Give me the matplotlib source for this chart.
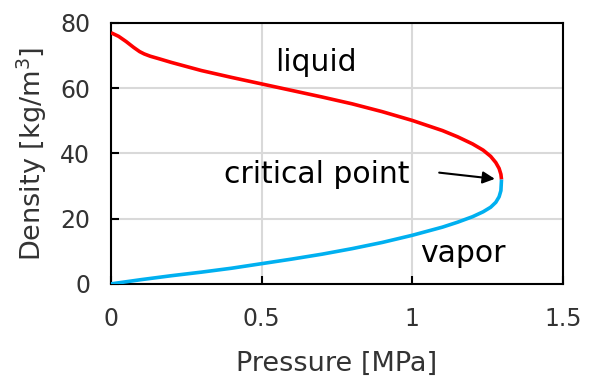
import matplotlib
matplotlib.use("Agg")
import matplotlib.pyplot as plt

# Saturated liquid branch
liquid_p = [0.0, 0.025, 0.05, 0.075, 0.095, 0.11, 0.13, 0.16, 0.2, 0.3, 0.4, 0.5, 0.6, 0.7, 0.8, 0.9, 1.0, 1.1, 1.15, 1.2, 1.235, 1.26, 1.277, 1.288, 1.294, 1.296]
liquid_rho = [77.0, 75.9, 74.3, 72.5, 71.2, 70.5, 69.8, 69.0, 67.9, 65.4, 63.3, 61.3, 59.3, 57.3, 55.2, 52.8, 50.1, 47.0, 45.1, 42.9, 41.0, 39.1, 37.2, 35.4, 33.6, 32.0]

# Saturated vapor branch
vapor_p = [0.0, 0.1, 0.2, 0.3, 0.4, 0.5, 0.6, 0.7, 0.8, 0.9, 1.0, 1.1, 1.15, 1.2, 1.235, 1.26, 1.277, 1.288, 1.294, 1.296]
vapor_rho = [0.0, 1.3, 2.5, 3.6, 4.8, 6.2, 7.6, 9.1, 10.8, 12.7, 14.9, 17.4, 18.9, 20.6, 22.1, 23.5, 25.0, 26.7, 28.6, 32.0]

x_ticks = [0, 0.5, 1, 1.5]
x_ticklabels = ["0", "0.5", "1", "1.5"]
y_ticks = [0, 20, 40, 60, 80]

fig = plt.figure(figsize=(5.97, 3.76), dpi=100)
ax = fig.add_axes([0.186, 0.245, 0.757, 0.694])

ax.plot(liquid_p, liquid_rho, color="#ff0000", lw=2.6, solid_capstyle="butt",
        solid_joinstyle="round", zorder=3)
ax.plot(vapor_p, vapor_rho, color="#00b0f0", lw=2.6, solid_capstyle="butt",
        solid_joinstyle="round", zorder=3)

ax.set_xlim(0, 1.5)
ax.set_ylim(0, 80)
ax.set_xticks(x_ticks)
ax.set_xticklabels(x_ticklabels)
ax.set_yticks(y_ticks)
ax.grid(True, color="#d9d9d9", lw=1.5, zorder=0)
ax.set_axisbelow(True)
for s in ax.spines.values():
    s.set_linewidth(1.5)
    s.set_color("black")
ax.tick_params(direction="in", length=6, width=1.5, labelsize=17, colors="black")
ax.tick_params(axis="x", pad=17)
ax.tick_params(axis="y", pad=15)
for lbl in ax.get_xticklabels() + ax.get_yticklabels():
    lbl.set_color("#333333")

ax.set_xlabel("Pressure [MPa]", fontsize=19.5, color="#333333", labelpad=14)
ax.set_ylabel("Density [kg/m$^3$]", fontsize=19.5, color="#333333", labelpad=8)

ax.text(0.68, 68, "liquid", fontsize=21.5, ha="center", va="center")
ax.text(0.682, 33.4, "critical point", fontsize=21.5, ha="center", va="center")
ax.text(1.167, 9.3, "vapor", fontsize=21.5, ha="center", va="center")
ax.annotate("", xy=(1.283, 32.1), xytext=(1.08, 34.2),
            arrowprops=dict(arrowstyle="-|>", color="black", lw=1.5, mutation_scale=18))

fig.savefig("out.png", dpi=100)
